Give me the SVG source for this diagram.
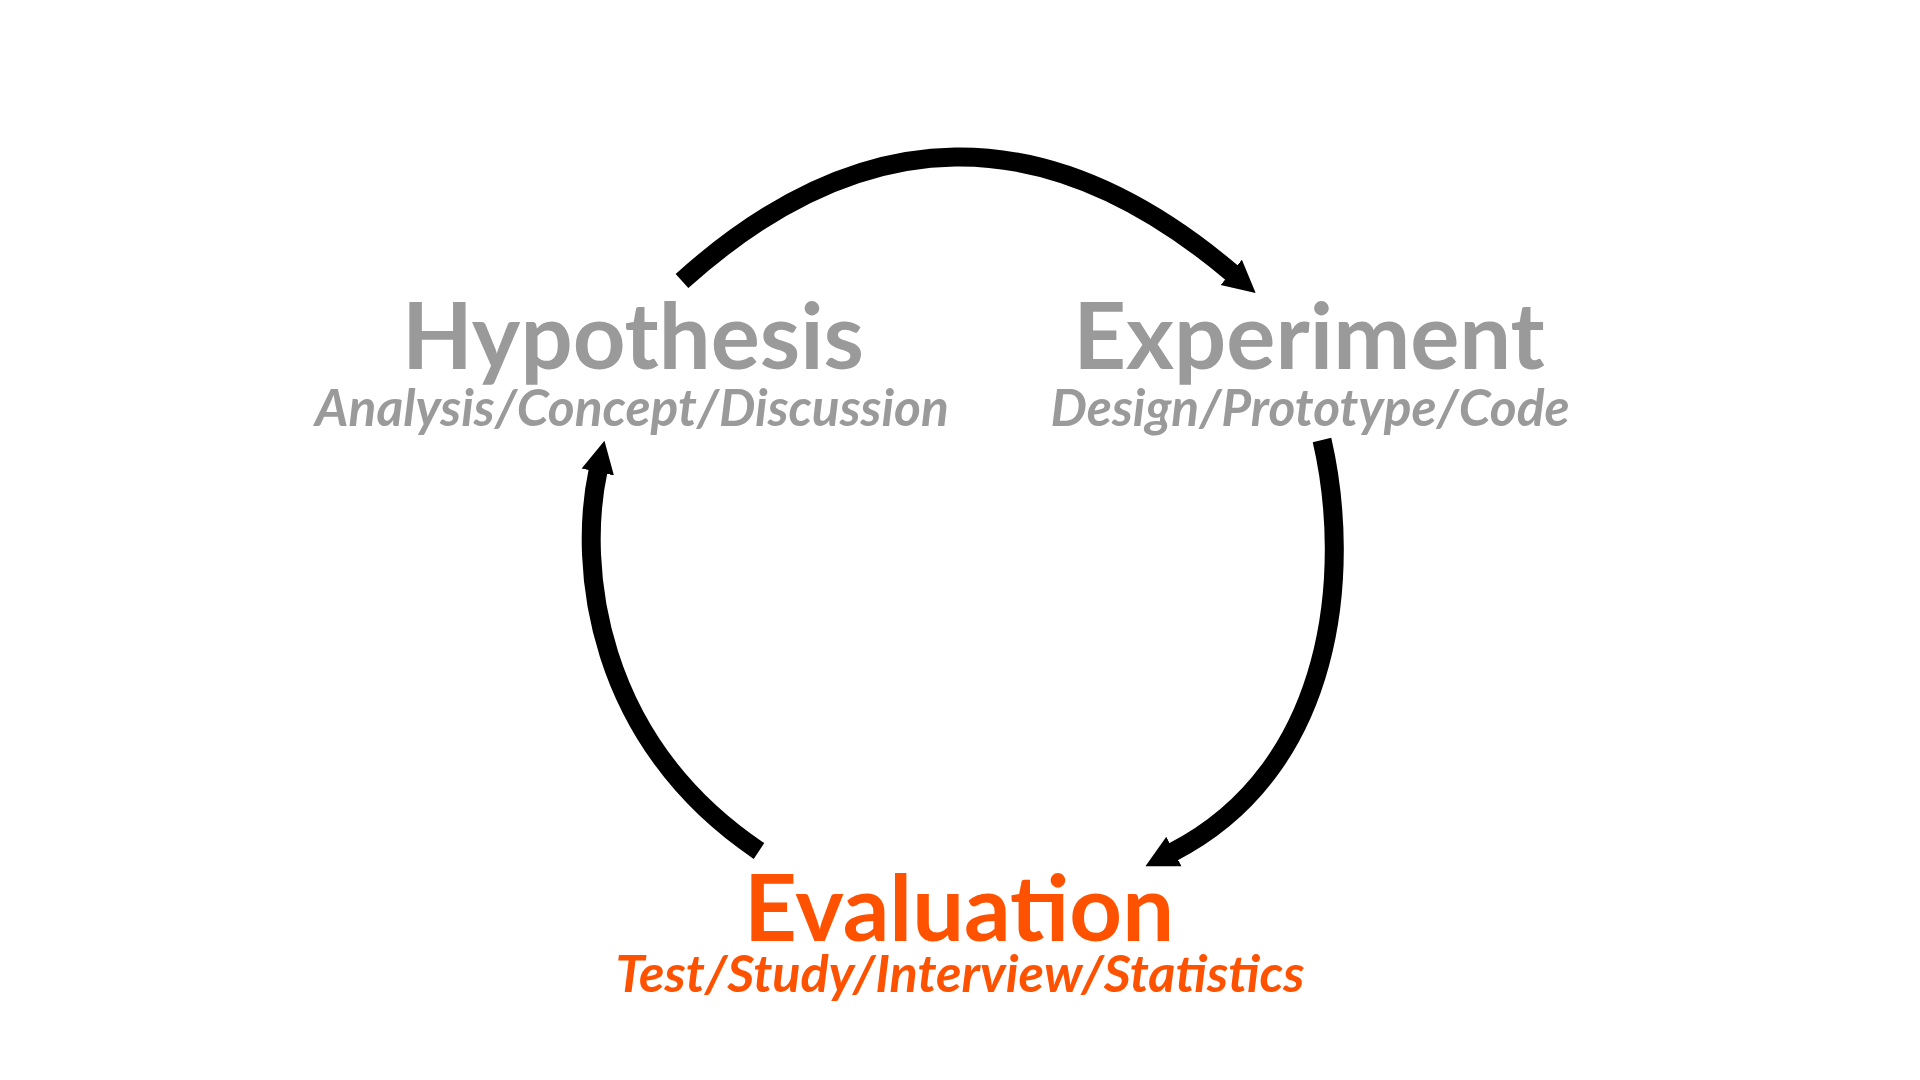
<svg xmlns="http://www.w3.org/2000/svg" width="1920" height="1080" viewBox="0 0 1920 1080">
<defs>
<style>
.title{font-family:Lato,"Liberation Sans",sans-serif;font-weight:700;font-size:92px;text-anchor:middle}
.sub{font-family:Lato,"Liberation Sans",sans-serif;font-weight:700;font-style:italic;font-size:51.5px;text-anchor:middle}
.gray{fill:#999a99}
.orange{fill:#ff5200}
.conn{fill:none;stroke:#000;stroke-width:19;marker-end:url(#ah)}
</style>
<marker id="ah" markerUnits="userSpaceOnUse" markerWidth="44" markerHeight="44" viewBox="0 -22 44 44" refX="1" refY="0" orient="auto">
<path d="M0,-16.5 L32,0 L0,16.5 Z" fill="#000"/>
</marker>
</defs>
<rect width="1920" height="1080" fill="#fff"/>
<g id="connectors">
<path class="conn" d="M682,281 Q953,37 1232,273"/>
<path class="conn" d="M1322,440 C1352,570 1336,768 1173,852"/>
<path class="conn" d="M759,851 C594,740 578,565 598,471"/>
</g>
<g id="hypothesis">
<text class="title gray" x="633" y="369">Hypothesis</text>
<text class="sub gray" x="632" y="426">Analysis/Concept/Discussion</text>
</g>
<g id="experiment">
<text class="title gray" x="1309" y="369">Experiment</text>
<text class="sub gray" x="1310" y="426">Design/Prototype/Code</text>
</g>
<g id="evaluation">
<text class="title orange" x="959" y="941">Evaluation</text>
<text class="sub orange" x="960" y="992" style="font-size:52.3px">Test/Study/Interview/Statistics</text>
</g>
</svg>
